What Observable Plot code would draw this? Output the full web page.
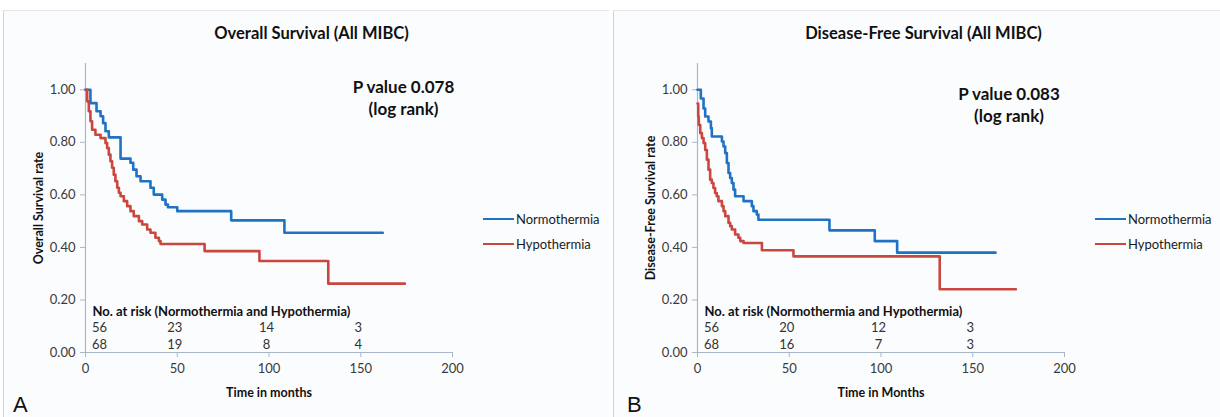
<!DOCTYPE html>
<html>
<head>
<meta charset="utf-8">
<script src="https://cdn.jsdelivr.net/npm/d3@7"></script>
<script src="https://cdn.jsdelivr.net/npm/@observablehq/plot@0.6"></script>
<style>
  body { margin: 0; background: #ffffff; font-family: Lato, "Open Sans", sans-serif; }
  #root { position: relative; width: 1220px; height: 417px; overflow: hidden; background: #ffffff; }
  .panel { position: absolute; top: 10px; height: 407px; background: #fbfcfd; box-sizing: border-box;
           border-left: 1px solid #cdd3d9; border-top: 1px solid #e2e6ea; }
  .plotbox { position: absolute; top: 10px; }
  .legend { position: absolute; display: flex; align-items: center; font-size: 13px; color: #1a1a1a;
            font-family: Lato, sans-serif; line-height: 16px; }
  .legend .sw { display: inline-block; width: 31px; height: 0; border-top: 2.6px solid; margin-right: 2px; }
  .letter { position: absolute; font-family: "Liberation Sans", Arial, sans-serif; font-size: 22px; color: #111; line-height: 22px; }
</style>
</head>
<body>
<div id="root"></div>
<script>
// ---------- shared categories / ticks ----------
const groups = ["Normothermia", "Hypothermia"];
const groupColors = ["#1f72c4", "#c9473f"];
const xTicks = [0, 50, 100, 150, 200];
const yTicks = [0, 0.2, 0.4, 0.6, 0.8, 1.0];
const riskTimes = [0, 50, 100, 150];

// ---------- Panel A: Overall Survival ----------
const osTitle = "Overall Survival (All MIBC)";
const osYLabel = "Overall Survival rate";
const osXLabel = "Time in months";
const osPValue = ["P value 0.078", "(log rank)"];
const osNormTime = [0, 2.7, 6.0, 8.2, 9.6, 10.9, 12.7, 19.1, 24.5, 26.0, 27.8, 30.0, 35.4, 37.2, 41.8, 43.6, 44.9, 50.0, 79.4, 108.4, 162.0];
const osNormSurv = [1.00, 0.949, 0.918, 0.899, 0.873, 0.842, 0.819, 0.738, 0.722, 0.696, 0.671, 0.652, 0.627, 0.601, 0.582, 0.563, 0.553, 0.538, 0.503, 0.456, 0.456];
const osHypoTime = [0, 0.9, 1.8, 2.7, 3.6, 5.4, 8.2, 10.9, 11.8, 12.7, 13.6, 14.5, 15.4, 16.3, 17.3, 18.2, 19.1, 20.9, 22.7, 24.5, 26.3, 29.1, 30.9, 33.6, 35.4, 38.1, 40.0, 40.9, 64.9, 94.8, 132.3, 174.0];
const osHypoSurv = [1.00, 0.956, 0.918, 0.880, 0.848, 0.829, 0.816, 0.797, 0.778, 0.753, 0.728, 0.703, 0.677, 0.652, 0.627, 0.608, 0.595, 0.576, 0.557, 0.538, 0.519, 0.500, 0.487, 0.468, 0.456, 0.437, 0.424, 0.413, 0.386, 0.348, 0.262, 0.262];
const osRiskNorm = [56, 23, 14, 3];
const osRiskHypo = [68, 19, 8, 4];

// ---------- Panel B: Disease-Free Survival ----------
const dfsTitle = "Disease-Free Survival (All MIBC)";
const dfsYLabel = "Disease-Free Survival rate";
const dfsXLabel = "Time in Months";
const dfsPValue = ["P value 0.083", "(log rank)"];
const dfsNormTime = [0, 1.8, 3.3, 4.2, 6.0, 7.3, 7.8, 13.3, 14.2, 15.1, 16.0, 16.9, 17.8, 18.7, 19.6, 20.5, 25.1, 29.6, 30.5, 32.3, 33.2, 71.9, 96.6, 108.8, 162.4];
const dfsNormSurv = [1.00, 0.967, 0.929, 0.898, 0.879, 0.854, 0.822, 0.803, 0.784, 0.759, 0.721, 0.683, 0.664, 0.645, 0.620, 0.595, 0.576, 0.557, 0.538, 0.525, 0.505, 0.465, 0.424, 0.380, 0.380];
const dfsHypoTime = [0, 0.4, 0.7, 1.5, 2.4, 3.3, 4.2, 5.1, 6.0, 6.9, 7.8, 8.7, 9.6, 10.5, 11.4, 13.3, 14.2, 15.1, 16.9, 17.8, 18.7, 20.5, 22.3, 23.3, 25.1, 35.1, 52.3, 132.0, 173.5];
const dfsHypoSurv = [0.948, 0.898, 0.866, 0.835, 0.816, 0.797, 0.771, 0.734, 0.696, 0.658, 0.645, 0.626, 0.607, 0.595, 0.576, 0.557, 0.538, 0.519, 0.494, 0.481, 0.468, 0.449, 0.437, 0.424, 0.417, 0.389, 0.366, 0.241, 0.241];
const dfsRiskNorm = [56, 20, 12, 3];
const dfsRiskHypo = [68, 16, 7, 3];

const riskHeader = "No. at risk (Normothermia and Hypothermia)";

const axisColor = "#a8b8c8";
const tickText = "#3a3a3a";
const root = document.getElementById("root");

function addDiv(cls, styles, html) {
  const d = document.createElement("div");
  d.className = cls;
  Object.assign(d.style, styles);
  if (html != null) d.innerHTML = html;
  root.appendChild(d);
  return d;
}

function makePanel(cfg) {
  const curves = [];
  cfg.normTime.forEach((t, i) => curves.push({group: groups[0], t, s: cfg.normSurv[i]}));
  cfg.hypoTime.forEach((t, i) => curves.push({group: groups[1], t, s: cfg.hypoSurv[i]}));
  const risk1 = riskTimes.map((t, i) => ({t, n: String(cfg.riskNorm[i])}));
  const risk2 = riskTimes.map((t, i) => ({t, n: String(cfg.riskHypo[i])}));
  const mid = {lineAnchor: "middle"};

  const chart = Plot.plot({
    width: cfg.width,
    height: 407,
    marginLeft: cfg.marginLeft,
    marginRight: cfg.marginRight,
    marginTop: 53,
    marginBottom: 65,
    style: {background: "transparent", fontFamily: "Lato, 'Open Sans', sans-serif", fontSize: "13px", color: tickText, overflow: "visible"},
    x: {domain: [0, 200], label: null},
    y: {domain: [0, 1.1], label: null},
    color: {domain: groups, range: groupColors},
    marks: [
      Plot.ruleX([0], {stroke: axisColor, strokeWidth: 1.2}),
      Plot.ruleY([0], {stroke: axisColor, strokeWidth: 1.2}),
      Plot.axisX({ticks: xTicks, tickSize: 5, tickPadding: 6, stroke: axisColor, fill: tickText, label: null, fontSize: 13}),
      Plot.axisY({ticks: yTicks, tickSize: 5, tickPadding: 5, stroke: axisColor, fill: tickText, tickFormat: d3.format(".2f"), label: null, fontSize: 13}),
      Plot.line(curves, {x: "t", y: "s", z: "group", stroke: "group", curve: "step-after", strokeWidth: 2.6}),
      // titles & labels
      Plot.text([cfg.title], {...mid, frameAnchor: "top", dx: 42.5, dy: -30, fontWeight: "bold", fontSize: 16.5, fill: "#111"}),
      Plot.text([cfg.yLabel], {...mid, frameAnchor: "left", textAnchor: "middle", dx: -47, rotate: -90, fontWeight: "bold", fontSize: 12.5, fill: "#111"}),
      Plot.text([cfg.xLabel], {...mid, frameAnchor: "bottom", dy: 40, fontWeight: "bold", fontSize: 12.5, fill: "#111"}),
      Plot.text([cfg.pValue[0]], {...mid, frameAnchor: "top", dx: cfg.pdx, dy: cfg.pdy, fontWeight: "bold", fontSize: 17, fill: "#111"}),
      Plot.text([cfg.pValue[1]], {...mid, frameAnchor: "top", dx: cfg.pdx, dy: cfg.pdy + 22.5, fontWeight: "bold", fontSize: 17, fill: "#111"}),
      // at-risk table
      Plot.text([riskHeader], {...mid, frameAnchor: "bottom-left", textAnchor: "start", dx: 7, dy: -41, fontWeight: "bold", fontSize: 13, fill: "#111"}),
      Plot.text(risk1, {...mid, x: "t", text: "n", frameAnchor: "bottom", filter: d => d.t === 0, dx: 14, dy: -25, fontSize: 13, fill: "#333"}),
      Plot.text(risk1, {...mid, x: "t", text: "n", frameAnchor: "bottom", filter: d => d.t !== 0, dx: -2.5, dy: -25, fontSize: 13, fill: "#333"}),
      Plot.text(risk2, {...mid, x: "t", text: "n", frameAnchor: "bottom", filter: d => d.t === 0, dx: 14, dy: -8, fontSize: 13, fill: "#333"}),
      Plot.text(risk2, {...mid, x: "t", text: "n", frameAnchor: "bottom", filter: d => d.t !== 0, dx: -2.5, dy: -8, fontSize: 13, fill: "#333"})
    ]
  });

  addDiv("panel", {left: cfg.panelLeft + "px", width: cfg.panelWidth + "px"});
  const box = addDiv("plotbox", {left: cfg.left + "px"});
  box.appendChild(chart);

  const frameRight = cfg.left + cfg.width - cfg.marginRight;
  groups.forEach((g, i) => {
    addDiv("legend", {left: (frameRight + 31) + "px", top: (211 + i * 25) + "px"},
      `<span class="sw" style="border-top-color:${groupColors[i]}"></span><span>${g}</span>`);
  });
  addDiv("letter", {left: cfg.letterLeft + "px", top: "394px"}, cfg.letter);
}

makePanel({
  title: osTitle, yLabel: osYLabel, xLabel: osXLabel, pValue: osPValue,
  normTime: osNormTime, normSurv: osNormSurv, hypoTime: osHypoTime, hypoSurv: osHypoSurv,
  riskNorm: osRiskNorm, riskHypo: osRiskHypo,
  left: 4, width: 604, marginLeft: 81, marginRight: 156,
  panelLeft: 3, panelWidth: 606, pdx: 134.5, pdy: 24, letter: "A", letterLeft: 13
});
makePanel({
  title: dfsTitle, yLabel: dfsYLabel, xLabel: dfsXLabel, pValue: dfsPValue,
  normTime: dfsNormTime, normSurv: dfsNormSurv, hypoTime: dfsHypoTime, hypoSurv: dfsHypoSurv,
  riskNorm: dfsRiskNorm, riskHypo: dfsRiskHypo,
  left: 614, width: 606, marginLeft: 83, marginRight: 156,
  panelLeft: 613, panelWidth: 607, pdx: 128, pdy: 31, letter: "B", letterLeft: 627
});
</script>
</body>
</html>
